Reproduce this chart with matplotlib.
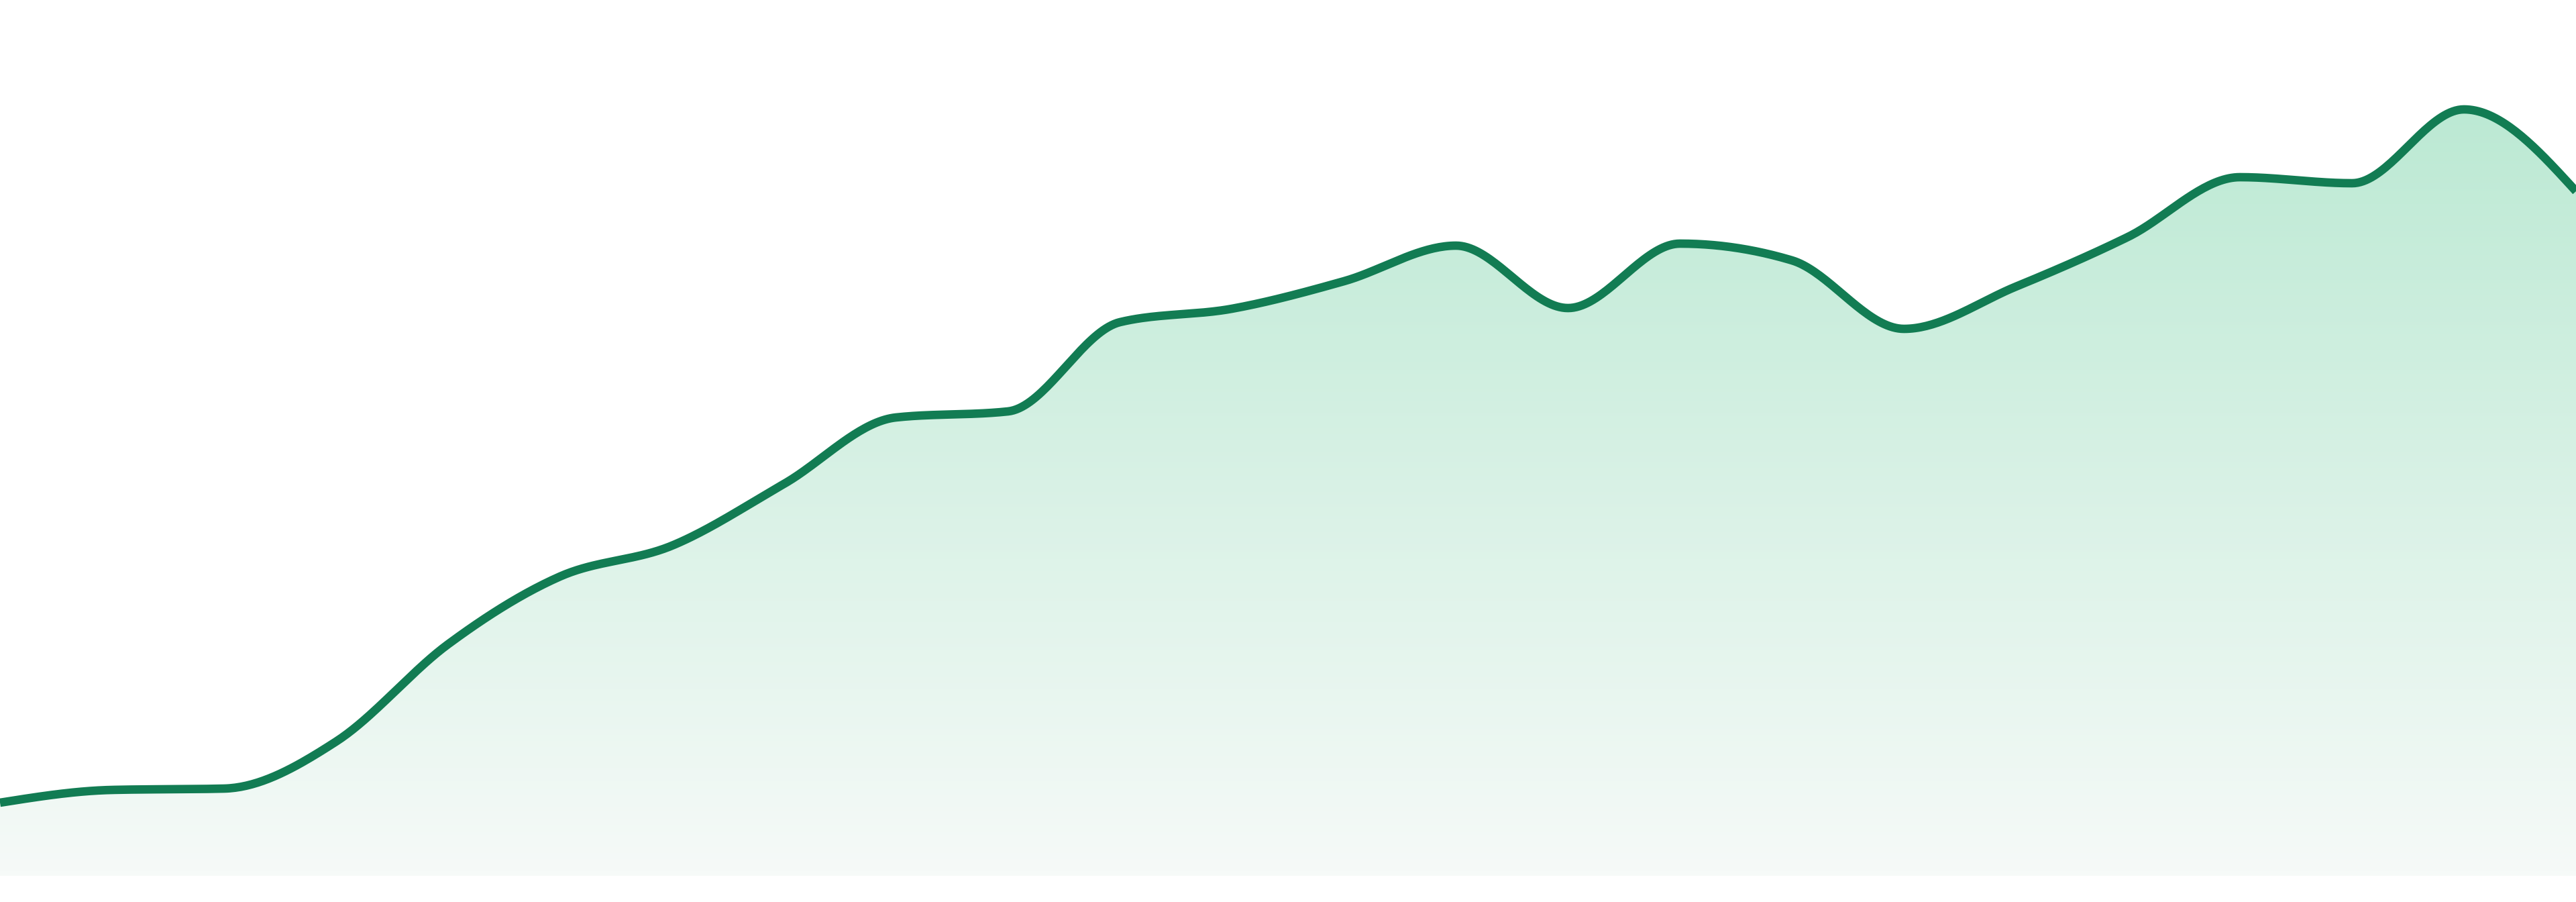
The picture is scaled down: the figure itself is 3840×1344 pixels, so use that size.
import numpy as np
import matplotlib
matplotlib.use('Agg')
import matplotlib.pyplot as plt
from matplotlib.colors import LinearSegmentedColormap
from matplotlib.patches import Polygon

# series values, one per evenly spaced step
steps = list(range(24))
values = [10.9, 12.8, 13.0, 20.0, 34.5, 44.6, 49.2, 58.4, 68.3, 69.2, 82.5, 84.5,
          88.6, 93.9, 84.6, 94.2, 91.7, 81.5, 87.8, 95.2, 104.1, 103.2, 114.2, 102.0]

line_color = '#127c53'
fill_top = (187 / 255, 233 / 255, 211 / 255)
fill_bottom = (246 / 255, 250 / 255, 248 / 255)


def monotone_curve(x, y, n=40):
    # monotone cubic (same rule as d3 curveMonotoneX)
    x = np.asarray(x, float)
    y = np.asarray(y, float)
    h = np.diff(x)
    s = np.diff(y) / h
    t = np.zeros_like(y)
    for i in range(1, len(x) - 1):
        s0, s1 = s[i - 1], s[i]
        p = (s0 * h[i] + s1 * h[i - 1]) / (h[i - 1] + h[i])
        t[i] = (np.sign(s0) + np.sign(s1)) * min(abs(s0), abs(s1), 0.5 * abs(p))
    t[0] = (3 * s[0] - t[1]) / 2
    t[-1] = (3 * s[-1] - t[-2]) / 2
    xs, ys = [], []
    for i in range(len(x) - 1):
        u = np.linspace(0, 1, n, endpoint=(i == len(x) - 2))
        h00 = 2 * u**3 - 3 * u**2 + 1
        h10 = u**3 - 2 * u**2 + u
        h01 = -2 * u**3 + 3 * u**2
        h11 = u**3 - u**2
        xs.append(x[i] + u * h[i])
        ys.append(h00 * y[i] + h10 * h[i] * t[i] + h01 * y[i + 1] + h11 * h[i] * t[i + 1])
    return np.concatenate(xs), np.concatenate(ys)


cx, cy = monotone_curve(steps, values)

fig = plt.figure(figsize=(38.4, 13.44), dpi=100)
ax = fig.add_axes([0, 0, 1, 1])
ax.set_xlim(0, 23)
ax.set_ylim(-3.9, 130.5)
ax.axis('off')

# gradient fill under the curve
cmap = LinearSegmentedColormap.from_list('fade', [fill_bottom, fill_top])
grad = np.linspace(0, 1, 256).reshape(-1, 1)
top_val = max(values) + 2
img = ax.imshow(grad, cmap=cmap, aspect='auto', origin='lower',
                extent=(0, 23, 0, top_val), interpolation='bicubic', zorder=1)
poly = Polygon(np.column_stack([np.r_[cx, cx[-1], cx[0]], np.r_[cy, 0, 0]]),
               closed=True, facecolor='none', edgecolor='none')
ax.add_patch(poly)
img.set_clip_path(poly)

ax.plot(cx, cy, color=line_color, linewidth=9.1, solid_joinstyle='round',
        solid_capstyle='butt', zorder=3)

fig.savefig('out.png', dpi=100, facecolor='white')
